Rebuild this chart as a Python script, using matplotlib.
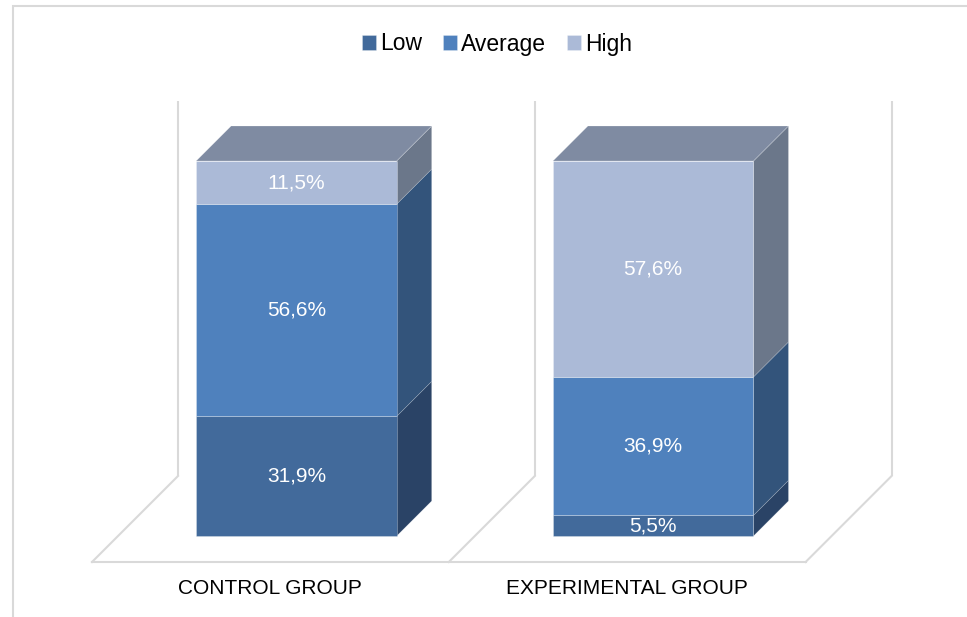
import matplotlib
matplotlib.use("Agg")
import matplotlib.pyplot as plt
from matplotlib.patches import Polygon, Rectangle
import numpy as np

# ---- data ----
categories = ["CONTROL GROUP", "EXPERIMENTAL GROUP"]
series_names = ["Low", "Average", "High"]
low = [31.9, 5.5]
average = [56.6, 36.9]
high = [11.5, 57.6]
label_text = {"Low": ["31,9%", "5,5%"], "Average": ["56,6%", "36,9%"], "High": ["11,5%", "57,6%"]}

front_colors = ["#426A9B", "#4F81BD", "#ABBAD7"]
side_colors = ["#2A4366", "#33547B", "#6B778A"]
top_color = "#7F8BA2"
grid_color = "#D9D9D9"

plt.rcParams["font.family"] = ["Liberation Sans", "DejaVu Sans"]

W, H = 967, 617
fig = plt.figure(figsize=(W / 100, H / 100), dpi=100)
ax = fig.add_axes([0, 0, 1, 1])

# pixel scale of the projection
PX_X = 356.8   # px per category unit
PX_Y = 3.75    # px per percent
X0_PX = 296.4
Y0_PX = 536.0
ax.set_xlim(-X0_PX / PX_X, (W - X0_PX) / PX_X)
ax.set_ylim((Y0_PX - H) / PX_Y, Y0_PX / PX_Y)
ax.axis("off")

kx, ky = 1 / PX_X, 1 / PX_Y
BAR_DEPTH = 35
FLOOR_BACK = 60
FLOOR_FRONT = -26
bar_w = 0.562

x = np.arange(len(categories))
n = len(categories)

# back wall & floor
wall_top = 100 + FLOOR_BACK * ky
for i in range(n + 1):
    bx = i - 0.5 + FLOOR_BACK * kx
    by = FLOOR_BACK * ky
    fx = i - 0.5 + FLOOR_FRONT * kx
    fy = FLOOR_FRONT * ky
    ax.plot([bx, bx], [by, wall_top], color=grid_color, lw=1.5, zorder=1, solid_capstyle="butt")
    ax.plot([bx, fx], [by, fy], color=grid_color, lw=1.5, zorder=1)
ax.plot([-0.5 + FLOOR_FRONT * kx, n - 0.5 + FLOOR_FRONT * kx], [FLOOR_FRONT * ky] * 2,
        color=grid_color, lw=1.5, zorder=1)

# bars
series = [low, average, high]
bottoms = np.zeros(n)
handles = []
dx, dy = BAR_DEPTH * kx, BAR_DEPTH * ky
for s, (name, vals) in enumerate(zip(series_names, series)):
    vals = np.array(vals)
    bars = ax.bar(x, vals, bar_w, bottom=bottoms, color=front_colors[s],
                  edgecolor=(1, 1, 1, 0.3), linewidth=0.6, zorder=3, label=name)
    handles.append(bars)
    for i, b in enumerate(bars):
        xr = b.get_x() + b.get_width()
        y0, y1 = bottoms[i], bottoms[i] + vals[i]
        side = Polygon([(xr, y0), (xr + dx, y0 + dy), (xr + dx, y1 + dy), (xr, y1)],
                       closed=True, facecolor=side_colors[s], edgecolor=(1, 1, 1, 0.2),
                       linewidth=0.5, zorder=2.5)
        ax.add_patch(side)
        ax.text(x[i], y0 + vals[i] / 2, label_text[name][i], ha="center", va="center",
                color="white", fontsize=15, zorder=5)
    bottoms = bottoms + vals

# top faces
for i, b in enumerate(handles[-1]):
    xl = b.get_x()
    xr = xl + b.get_width()
    t = bottoms[i]
    top = Polygon([(xl, t), (xl + dx, t + dy), (xr + dx, t + dy), (xr, t)], closed=True,
                  facecolor=top_color, edgecolor=(1, 1, 1, 0.3), linewidth=0.5, zorder=4)
    ax.add_patch(top)

# category labels
for i, c in enumerate(categories):
    ax.text(i + FLOOR_FRONT * kx, FLOOR_FRONT * ky - 26 * ky, c, ha="center", va="center",
            fontsize=15, color="#000000", zorder=5)

# legend
leg = ax.legend(handles=handles, labels=series_names, loc="center",
                bbox_to_anchor=(0.514, 1 - 44 / H), ncol=3, frameon=False,
                fontsize=16.5, handlelength=0.6, handleheight=0.6, handletextpad=0.2,
                columnspacing=0.9, borderpad=0)

# chart border
fig.patches.append(Rectangle((13 / W, -0.1), 1.2, 1 - 6 / H + 0.1, transform=fig.transFigure,
                             fill=False, edgecolor=grid_color, linewidth=1.5, zorder=0))

fig.savefig("out.png", dpi=100, facecolor="white")
